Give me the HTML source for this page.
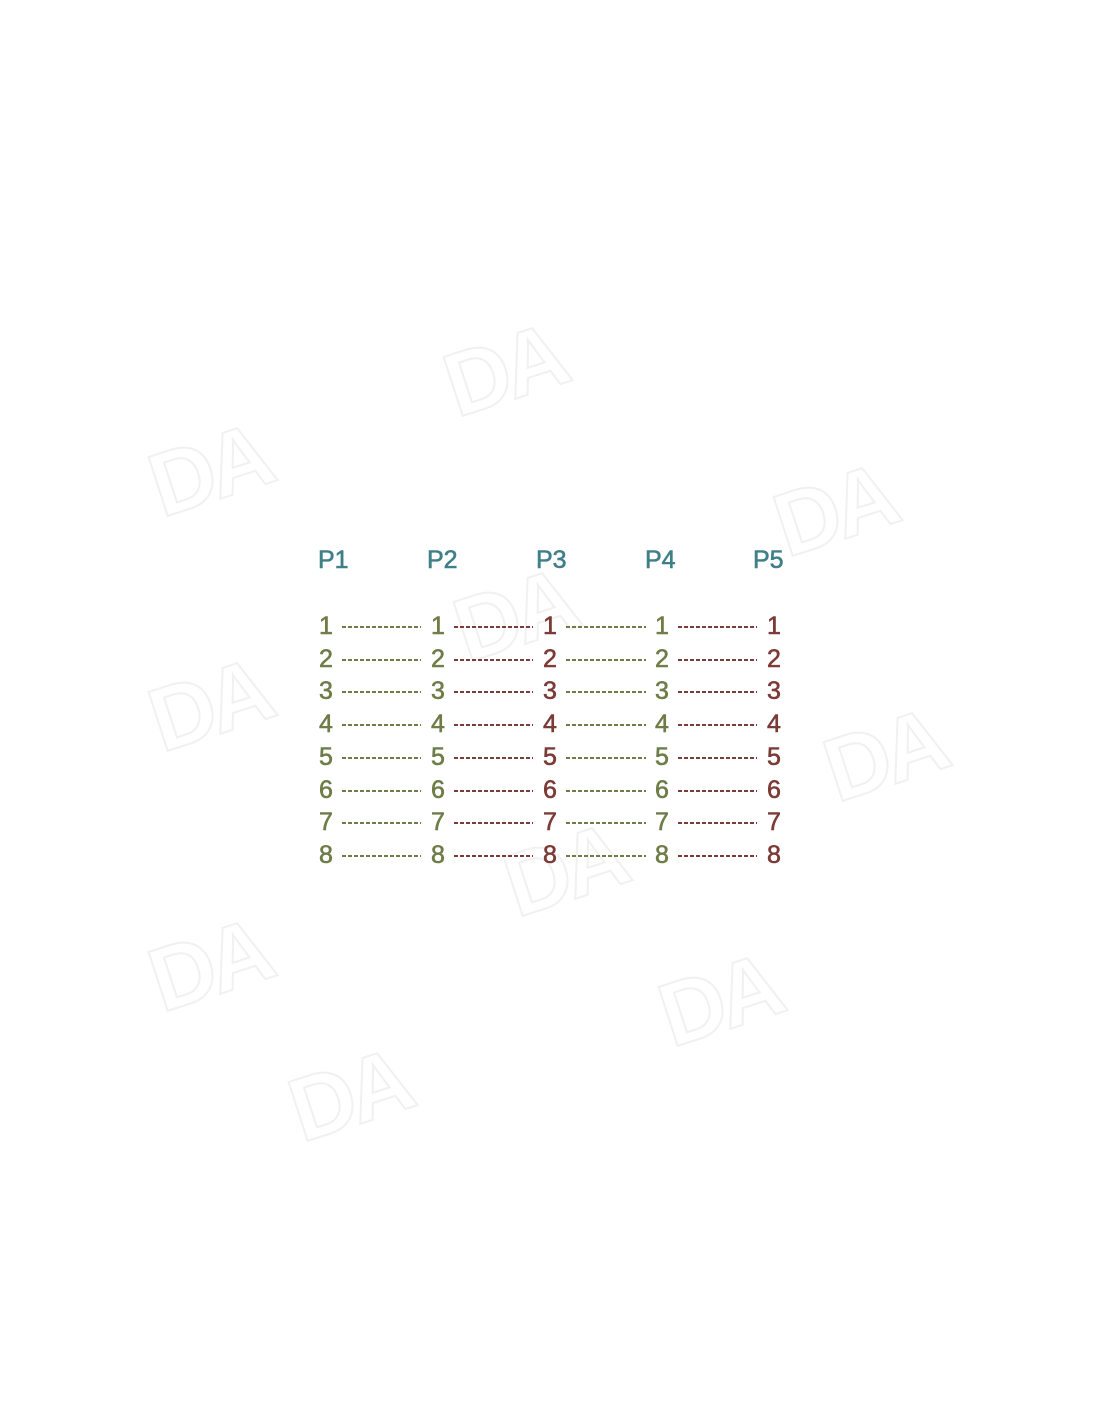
<!DOCTYPE html>
<html><head><meta charset="utf-8"><style>
body{margin:0;width:1100px;height:1422px;background:#fff;position:relative;overflow:hidden;font-family:"Liberation Sans",sans-serif}
.t{position:absolute;font-size:25px;line-height:24px;-webkit-text-stroke:0.6px currentColor}
.p{color:#3f7f87}
.o{color:#6e7d48}.b{color:#7b3b36}
.l{position:absolute;height:2px}
.wm{position:absolute;font-size:90px;color:transparent;-webkit-text-stroke:2px #f1f1f1;transform:rotate(-18deg);font-weight:bold;letter-spacing:-6px}
</style></head><body>
<div class="wm" style="left:445px;top:320px">DA</div>
<div class="wm" style="left:150px;top:420px">DA</div>
<div class="wm" style="left:775px;top:460px">DA</div>
<div class="wm" style="left:455px;top:565px">DA</div>
<div class="wm" style="left:150px;top:655px">DA</div>
<div class="wm" style="left:825px;top:705px">DA</div>
<div class="wm" style="left:505px;top:820px">DA</div>
<div class="wm" style="left:150px;top:915px">DA</div>
<div class="wm" style="left:660px;top:950px">DA</div>
<div class="wm" style="left:290px;top:1045px">DA</div>
<div id="c"></div>
<script>
var h='';
var px=[318,427,536,645,753];
for(var i=0;i<5;i++)h+='<div class="t p" style="left:'+px[i]+'px;top:548px">P'+(i+1)+'</div>';
var dx=[319,431,543,655,767],dc=['o','o','b','o','b'];
var lx=[[342,421,'#6e7d48'],[454,533,'#7b3b36'],[566,646,'#6e7d48'],[678,757,'#7b3b36']];
for(var r=0;r<8;r++){var y=Math.round(614+r*32.7);
for(var i=0;i<5;i++)h+='<div class="t '+dc[i]+'" style="left:'+dx[i]+'px;top:'+y+'px">'+(r+1)+'</div>';
for(var j=0;j<4;j++)h+='<div class="l" style="left:'+lx[j][0]+'px;width:'+(lx[j][1]-lx[j][0])+'px;top:'+(y+12)+'px;background:repeating-linear-gradient(90deg,'+lx[j][2]+' 0 4px,transparent 4px 6px)"></div>';}
document.getElementById('c').innerHTML=h;
</script>
</body></html>
